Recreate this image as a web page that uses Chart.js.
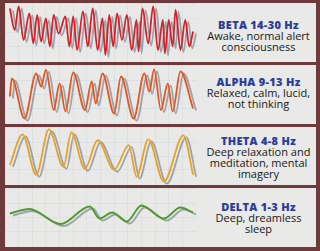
<!DOCTYPE html>
<html>
<head>
<meta charset="utf-8">
<script src="https://cdn.jsdelivr.net/npm/chart.js@4/dist/chart.umd.min.js"></script>
<style>
body{margin:0;background:#6f3a3c;}
#wrap{position:relative;width:320px;height:251px;overflow:hidden;background:#6f3a3c;}
.panel{position:absolute;left:5px;width:311px;background:#e9e9e8;}
.wave{position:absolute;left:0;top:0;width:192px;height:100%;}
.txt{position:absolute;left:196px;width:115px;text-align:center;font-family:"Open Sans",sans-serif;font-size:11px;line-height:10.8px;color:#181818;}
.txt b{display:block;color:#2b3d97;font-size:11px;line-height:12px;font-weight:800;letter-spacing:0.3px;}
</style>
</head>
<body>
<div id="wrap">
  <div class="panel" style="top:3px;height:59px"><div class="wave"><canvas id="c0"></canvas></div>
    <div class="txt" style="top:16px"><b>BETA 14-30 Hz</b>Awake, normal alert<br>consciousness</div></div>
  <div class="panel" style="top:65px;height:59px"><div class="wave"><canvas id="c1"></canvas></div>
    <div class="txt" style="top:11px"><b>ALPHA 9-13 Hz</b>Relaxed, calm, lucid,<br>not thinking</div></div>
  <div class="panel" style="top:127px;height:58px"><div class="wave"><canvas id="c2"></canvas></div>
    <div class="txt" style="top:8px"><b>THETA 4-8 Hz</b>Deep relaxation and<br>meditation, mental<br>imagery</div></div>
  <div class="panel" style="top:188px;height:59px"><div class="wave"><canvas id="c3"></canvas></div>
    <div class="txt" style="top:13px"><b>DELTA 1-3 Hz</b>Deep, dreamless<br>sleep</div></div>
</div>
<script>
// time positions and amplitudes
const betaT=[5,10,14,19,25,29,33,37,42,46,50,55,62,66,70,74,80,85,90,95,100,103,107,111,115,120,125,130,135,137,141,147,152,157,162,164,168,172,175,180,185,189,193]
const betaV=[24,2.5,26,-7.5,19,-11,17.5,-9,14,-14,17.5,-1,16,-14,16,-17.5,21,-14,24,-17.5,14,-22.5,17.5,-14,19,-7.5,17.5,-17.5,12.5,-19,24,-11,26,-17.5,12.5,-21,12.5,-14,22.5,-17.5,12.5,-14,1]

const alphaT=[5,7,20,32,37,42,50,56,62,70,82,89,93,100,112,119,132,143,148,153,160,167,172,180,193]
const alphaV=[-2,16,-24,21,8,24.5,-15.5,11,-17,22,-15.5,13,-9,21,-19,18,-24,21,3,25,-15.5,11,-17,23,-14]

const thetaT=[5,18,32,45,60,68,82,95,112,127,135,147,163,183,193]
const thetaV=[-9,22,-19,27,-11,24,-13,16,-14,11,-21,17,-26,21,-19]

const deltaT=[5,25,57,87,97,110,125,140,163,180,193]
const deltaV=[4,8.5,-6.5,11,-1,5,-4,12,-1,10,5]

const series=[
  {t:betaT,v:betaV,color:'#d3232a'},
  {t:alphaT,v:alphaV,color:'#e2561f'},
  {t:thetaT,v:thetaV,color:'#e9a320'},
  {t:deltaT,v:deltaV,color:'#4e9a2e'}
]

const shadow={
  id:'shadow',
  beforeDatasetsDraw(chart){
    const ctx=chart.ctx
    ctx.save()
    ctx.shadowColor='rgba(125,132,145,0.7)'
    ctx.shadowOffsetX=3
    ctx.shadowOffsetY=2
    ctx.shadowBlur=0.6
  },
  afterDatasetsDraw(chart){chart.ctx.restore()}
}

series.forEach((s,i)=>{
  new Chart(document.getElementById('c'+i),{
    type:'line',
    data:{datasets:[{
      data:s.t.map((t,k)=>({x:t,y:s.v[k]})),
      borderColor:s.color,
      borderWidth:1.8,
      pointRadius:0,
      cubicInterpolationMode:'monotone',
      clip:6
    }]},
    options:{
      responsive:true,
      maintainAspectRatio:false,
      animation:false,
      layout:{padding:0},
      plugins:{legend:{display:false},tooltip:{enabled:false}},
      scales:{
        x:{type:'linear',min:0,max:197,
          ticks:{display:false,stepSize:14},
          grid:{color:'rgba(150,180,200,0.15)',drawTicks:false},border:{display:false}},
        y:{min:-29.5,max:29.5,
          ticks:{display:false,stepSize:14},
          grid:{color:'rgba(150,180,200,0.15)',drawTicks:false},border:{display:false}}
      }
    },
    plugins:[shadow]
  })
})
</script>
</body>
</html>
